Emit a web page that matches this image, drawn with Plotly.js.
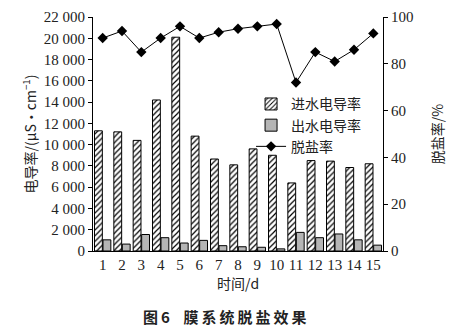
<!DOCTYPE html>
<html>
<head>
<meta charset="utf-8">
<script src="https://cdn.plot.ly/plotly-3.0.1.min.js"></script>
<style>html,body{margin:0;padding:0;background:#fff;}#chart{width:454px;height:328px;}</style>
</head>
<body>
<div id="chart"></div>
<script>
const days = [1,2,3,4,5,6,7,8,9,10,11,12,13,14,15];
const inletCond = [11300,11200,10400,14200,20100,10800,8650,8100,9600,9000,6400,8500,8450,7850,8200];
const outletCond = [1050,650,1550,1250,750,1000,500,400,350,200,1750,1250,1600,1050,550];
const desalRate = [91,94,85,91,96,91,93.5,95,96,97,72,85,81,86,93];
const leftTickVals = [0,2000,4000,6000,8000,10000,12000,14000,16000,18000,20000,22000];
const leftTickText = ['0','2 000','4 000','6 000','8 000','10 000','12 000','14 000','16 000','18 000','20 000','22 000'];
const rightTickVals = [0,20,40,60,80,100];

const FONT = 'Liberation Serif, Times New Roman, Noto Sans CJK SC, serif';
const CJK = 'Noto Sans CJK SC, sans-serif';

const traces = [
  {type:'bar', x:days, y:inletCond, name:'进水电导率', yaxis:'y',
   marker:{color:'white', line:{color:'black', width:1},
     pattern:{shape:'/', size:4, solidity:0.3, fgcolor:'black', bgcolor:'white'}}},
  {type:'bar', x:days, y:outletCond, name:'出水电导率', yaxis:'y',
   marker:{color:'#b5b5b5', line:{color:'black', width:1}}},
  {type:'scatter', mode:'lines+markers', x:days, y:desalRate, name:'脱盐率', yaxis:'y2',
   line:{color:'black', width:1}, marker:{symbol:'diamond', size:8, color:'black'}}
];

const TS = '\u2009';
const layout = {
  width:454, height:328,
  margin:{l:93, r:71, t:17, b:77},
  paper_bgcolor:'white', plot_bgcolor:'white',
  font:{family:FONT, size:15, color:'#222'},
  barmode:'group', bargap:0.12, bargroupgap:0.08,
  showlegend:true,
  legend:{x:0.545, y:0.695, xanchor:'left', yanchor:'top', bgcolor:'rgba(0,0,0,0)',
    font:{family:CJK, size:14, color:'#222'}, tracegroupgap:0, itemwidth:30,
    traceorder:'normal'},
  xaxis:{range:[0.5,15.5], tickvals:days, ticktext:days.map(String), showline:true,
    linecolor:'black', linewidth:1, ticks:'', showgrid:false, zeroline:false,
    tickfont:{family:FONT, size:15},
    title:{text:'时间/d', font:{family:CJK, size:14}, standoff:4}},
  yaxis:{range:[0,22000], tickvals:leftTickVals, ticktext:leftTickText, showline:true,
    linecolor:'black', linewidth:1, ticks:'outside', ticklen:4, tickcolor:'black',
    showgrid:false, zeroline:false, tickfont:{family:FONT, size:15},
    title:{text:'电导率/(μS·cm<sup>−1</sup>)', font:{family:CJK, size:14}, standoff:3}},
  yaxis2:{range:[0,100], tickvals:rightTickVals, overlaying:'y', side:'right',
    showline:true, linecolor:'black', linewidth:1, ticks:'outside', ticklen:4,
    tickcolor:'black', showgrid:false, zeroline:false, tickfont:{family:FONT, size:15},
    title:{text:'脱盐率/%', font:{family:CJK, size:14}, standoff:20}},
  annotations:[
    {text:'<b>图'+TS+'6&nbsp;&nbsp;&nbsp;&nbsp;膜'+TS+'系'+TS+'统'+TS+'脱'+TS+'盐'+TS+'效'+TS+'果</b>',
     xref:'paper', yref:'paper', x:0.455, y:-0.225,
     xanchor:'center', yanchor:'top', showarrow:false, font:{family:CJK, size:15, color:'#222'}}
  ]
};

Plotly.newPlot('chart', traces, layout, {displayModeBar:false, staticPlot:true});
</script>
</body>
</html>
